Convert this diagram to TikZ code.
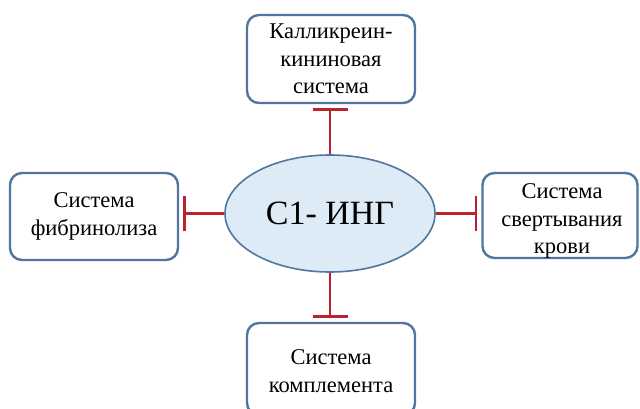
\documentclass[tikz,border=0pt]{standalone}
\usepackage{fontspec}
\setmainfont{Liberation Serif}
\newfontfamily\diagfont{Liberation Serif}
\usetikzlibrary{shapes.geometric,arrows.meta}
\definecolor{boxblue}{RGB}{82,118,160}
\definecolor{ellfill}{RGB}{221,235,247}
\definecolor{inhred}{RGB}{185,35,45}
\tikzset{
  sysbox/.style={draw=boxblue, line width=2.4pt, rounded corners=12pt, fill=white,
    align=center, inner sep=0pt, font=\diagfont\fontsize{22.5}{27.5}\selectfont},
  boxtext/.style={align=center, inner sep=0pt, font=\diagfont\fontsize{22.5}{27.5}\selectfont},
  inhib/.style={draw=inhred, line width=2.4pt, -{Bar[width=35pt,line width=2.4pt]}, shorten >=4pt}
}
\begin{document}
\begin{tikzpicture}[x=1pt,y=-1pt]
\clip (0,0) rectangle (640,409);
\fill[white] (0,0) rectangle (640,409);
\node[sysbox, minimum width=168pt, minimum height=88pt] (kal) at (331,59) {Калликреин-\\кининовая\\система};
\node[sysbox, minimum width=168pt, minimum height=87pt] (fib) at (94,216.5) {Система\\фибринолиза};
\node[sysbox, minimum width=155pt, minimum height=85pt] (svr) at (560,215.5) {};
\node[boxtext] (svrt) at (562,221) {Система\\свертывания\\крови};
\node[sysbox, minimum width=168pt, minimum height=92pt] (kom) at (331,369) {};
\node[boxtext] (komt) at (331,371) {Система\\комплемента};
\node[ellipse, draw=boxblue, line width=1.6pt, fill=ellfill, minimum width=210pt, minimum height=117pt,
  font=\diagfont\fontsize{34}{38}\selectfont, inner sep=0pt] (c1) at (330,213.5) {С1- ИНГ};
\draw[inhib] (c1.north) -- (c1.north |- kal.south);
\draw[inhib] (c1.south) -- (c1.south |- kom.north);
\draw[inhib] (c1.west) -- (c1.west -| fib.east);
\draw[inhib] (c1.east) -- (c1.east -| svr.west);
\end{tikzpicture}
\end{document}
